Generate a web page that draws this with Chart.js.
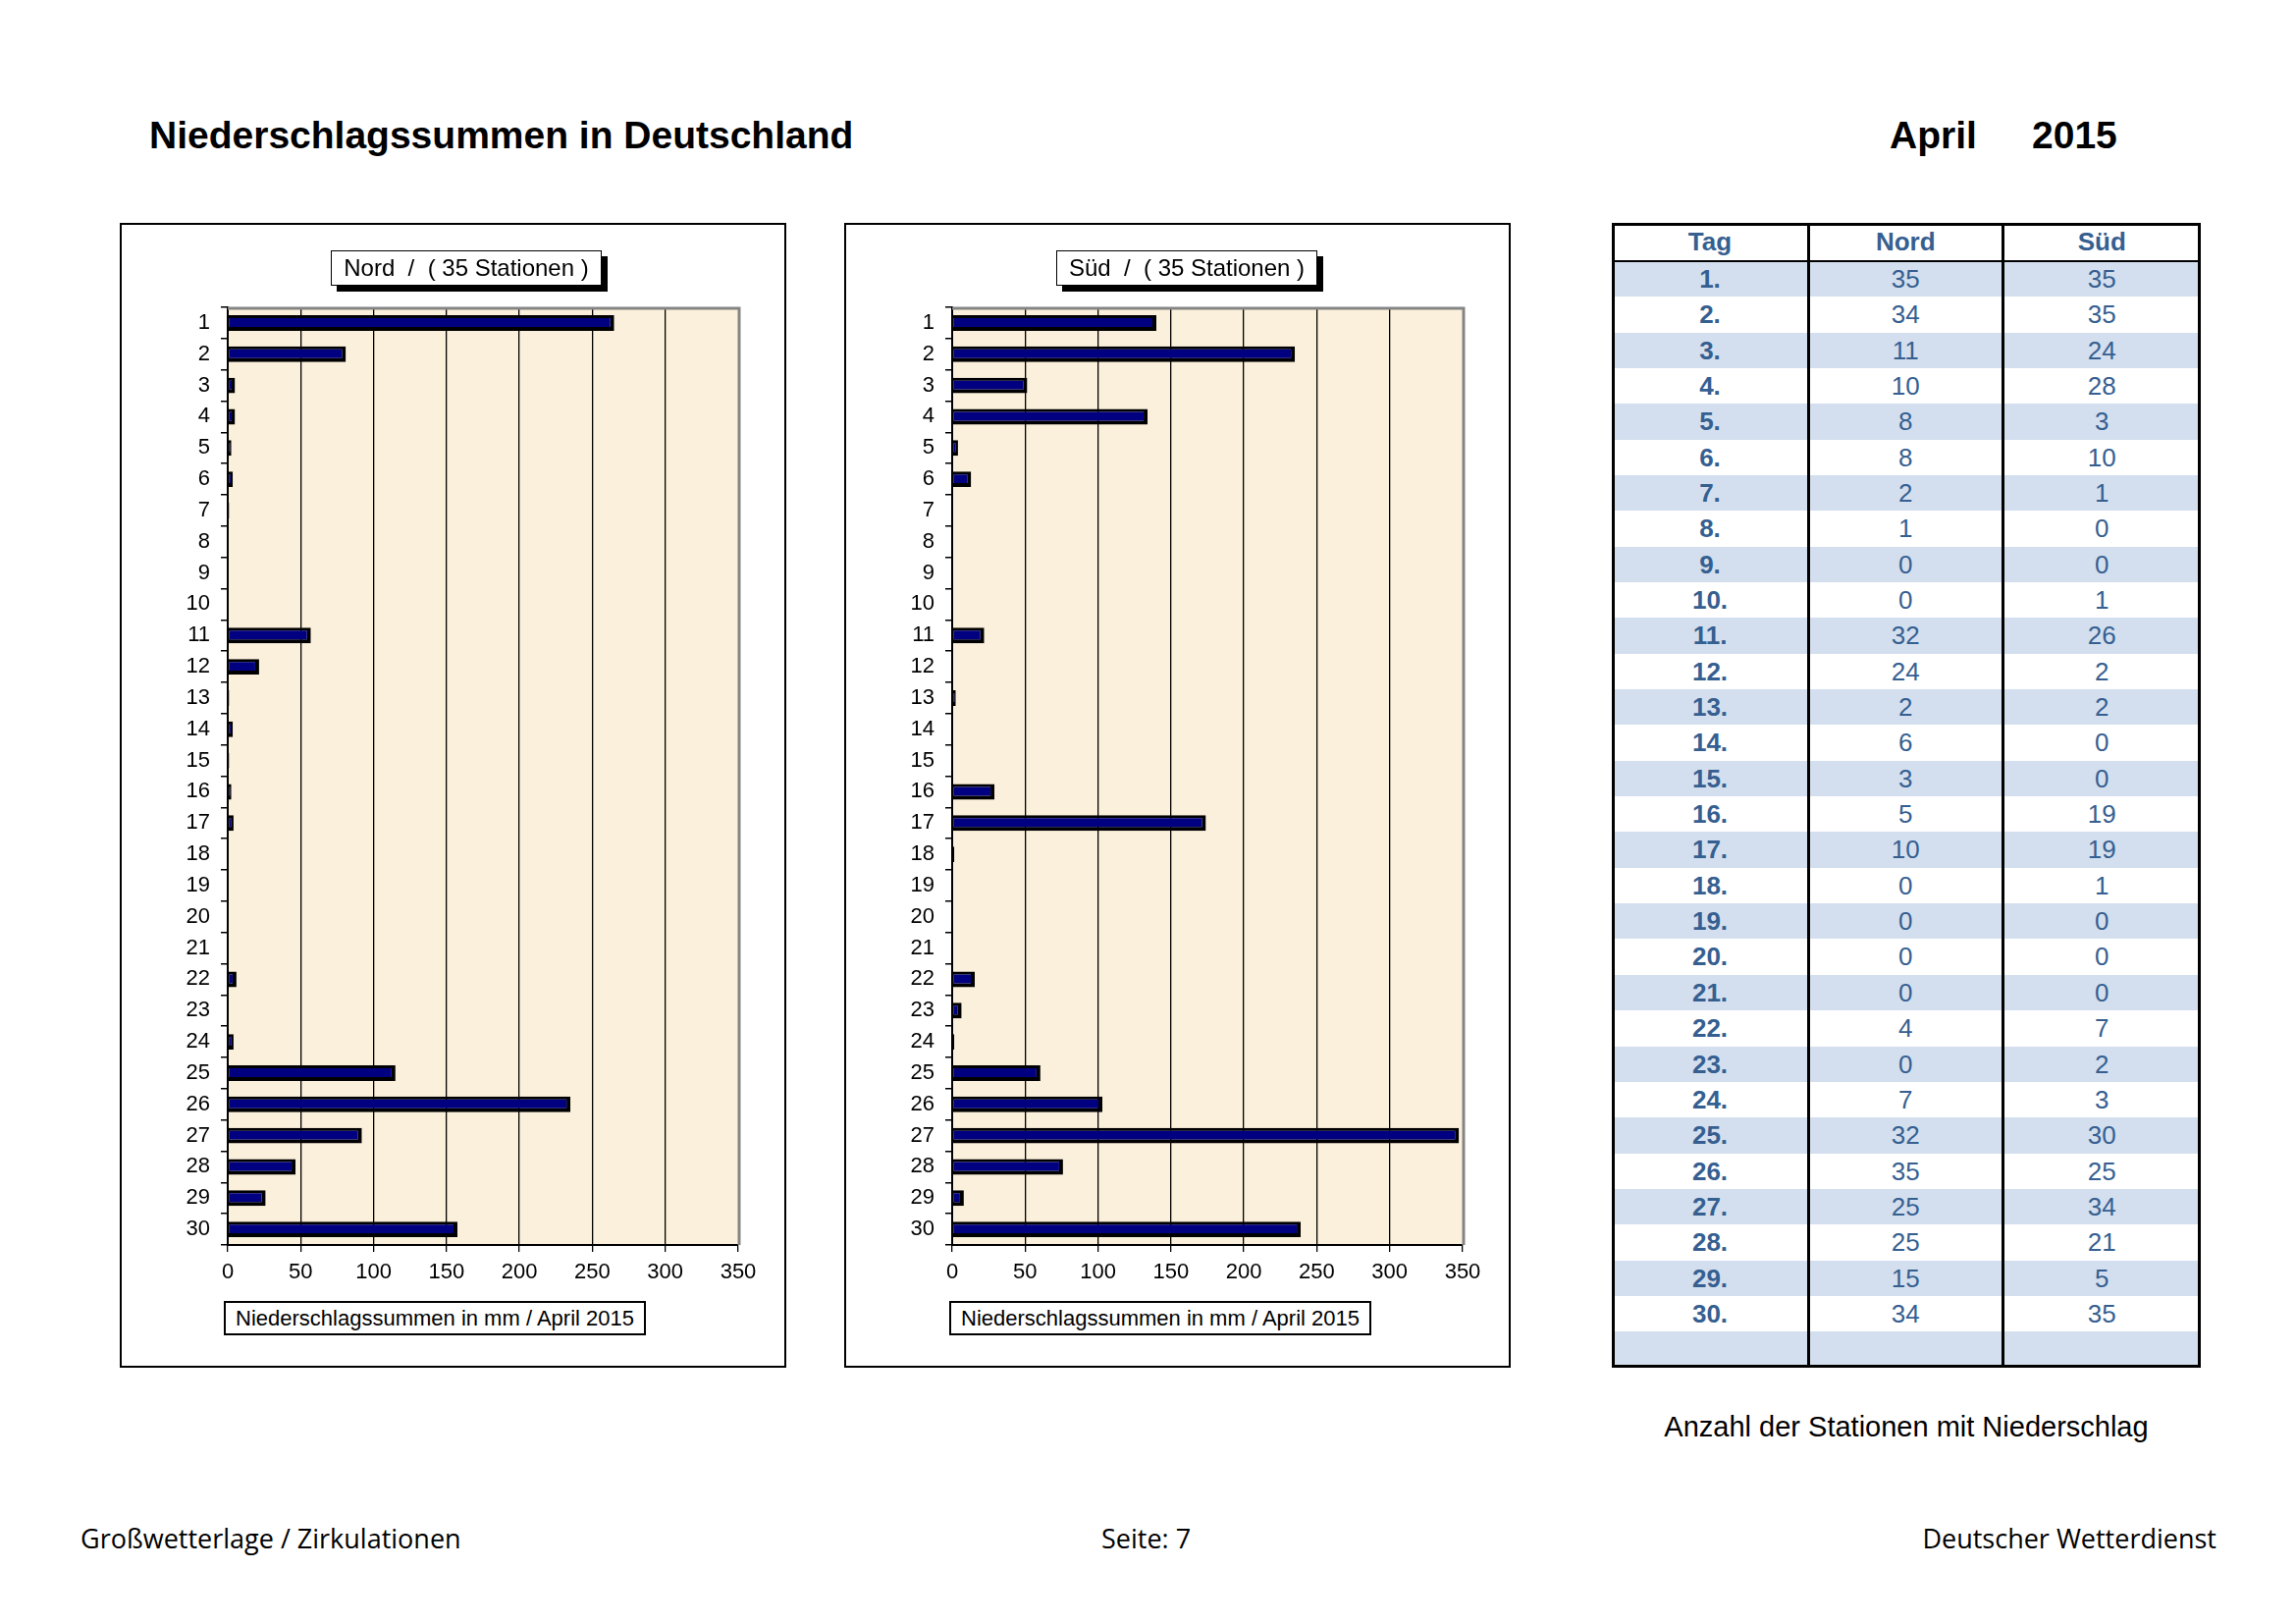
<!DOCTYPE html>
<html><head><meta charset="utf-8">
<script src="https://cdn.jsdelivr.net/npm/chart.js@4.4.1/dist/chart.umd.min.js"></script>
<style>
html,body{margin:0;padding:0;background:#fff;}
#page{position:relative;width:2339px;height:1653px;overflow:hidden;font-family:'Liberation Sans',Arial,sans-serif;color:#000;}
.abs{position:absolute;white-space:nowrap;}
.chartbox{position:absolute;width:679px;height:1166px;}
.frame{position:absolute;width:679px;height:1166px;border:2px solid #000;box-sizing:border-box;pointer-events:none;}
.lbox{position:absolute;background:#fff;border:1.5px solid #000;box-shadow:6px 6px 0 #000;box-sizing:border-box;text-align:center;font-size:24px;line-height:34px;white-space:pre;}
.xbox{position:absolute;background:#fff;border:2px solid #000;box-sizing:border-box;text-align:center;font-size:22px;line-height:31px;white-space:nowrap;}
#tbl{position:absolute;left:1642px;top:227px;width:600px;height:1166px;font-size:26px;color:#365F91;}
.row{position:absolute;left:0;width:600px;}
.cell{position:absolute;top:0;text-align:center;}
.foot{font-family:'Open Sans',sans-serif;font-size:27px;line-height:36px;}
</style></head>
<body><div id="page">
<div class="abs" style="left:152px;top:117px;font-size:39px;font-weight:bold;line-height:42px;">Niederschlagssummen in Deutschland</div>
<div class="abs" style="left:1925px;top:117px;font-size:39px;font-weight:bold;line-height:42px;">April</div>
<div class="abs" style="left:2070px;top:117px;font-size:39px;font-weight:bold;line-height:42px;">2015</div>

<div class="chartbox" style="left:122px;top:227px;"><canvas id="cNord"></canvas></div>
<div class="frame" style="left:122px;top:227px;"></div>
<div class="lbox" style="left:337px;top:255px;width:276px;height:36px;">Nord  /  ( 35 Stationen )</div>
<div class="xbox" style="left:228px;top:1325px;width:430px;height:35px;">Niederschlagssummen in mm / April 2015</div>

<div class="chartbox" style="left:860px;top:227px;"><canvas id="cSued"></canvas></div>
<div class="frame" style="left:860px;top:227px;"></div>
<div class="lbox" style="left:1076px;top:255px;width:266px;height:36px;">Süd  /  ( 35 Stationen )</div>
<div class="xbox" style="left:967px;top:1325px;width:430px;height:35px;">Niederschlagssummen in mm / April 2015</div>

<div id="tbl"></div>
<div class="abs" style="left:1642px;width:600px;top:1437px;text-align:center;font-size:29px;line-height:32px;">Anzahl der Stationen mit Niederschlag</div>

<div class="abs foot" style="left:82px;top:1549px;">Großwetterlage / Zirkulationen</div>
<div class="abs foot" style="left:1122px;top:1549px;">Seite: 7</div>
<div class="abs foot" style="right:81px;top:1549px;">Deutscher Wetterdienst</div>
</div>
<script>
// ---- data ----
const dayLabels = ['1','2','3','4','5','6','7','8','9','10','11','12','13','14','15','16','17','18','19','20','21','22','23','24','25','26','27','28','29','30'];
const nordRain = [265,81,5,5,2.5,3.5,1,0,0,0,57,21.5,1,3.5,1,2.5,4,0,0,0,0,6,0,4,115,235,92,46.5,26,157.5];
const suedRain = [140,235,51.5,134,4,13,0,0,0,0,22,0,2.5,0,0,29,174,1.5,0,0,0,15.5,6.5,1.5,60.5,103,347.5,76,8,239];
const tableDays = ['1.','2.','3.','4.','5.','6.','7.','8.','9.','10.','11.','12.','13.','14.','15.','16.','17.','18.','19.','20.','21.','22.','23.','24.','25.','26.','27.','28.','29.','30.'];
const nordStations = [35,34,11,10,8,8,2,1,0,0,32,24,2,6,3,5,10,0,0,0,0,4,0,7,32,35,25,25,15,34];
const suedStations = [35,35,24,28,3,10,1,0,0,1,26,2,2,0,0,19,19,1,0,0,0,7,2,3,30,25,34,21,5,35];
const xTicks = [0,50,100,150,200,250,300,350];

// ---- table ----
(function(){
  const t = document.getElementById('tbl');
  const cols = [[0,200],[200,198.5],[398.5,201.5]];
  const headH = 38.8, rowH = 36.35;
  function addRow(top, h, bg, texts, bolds){
    const r = document.createElement('div');
    r.className='row'; r.style.top = top+'px'; r.style.height = h+'px'; r.style.background = bg;
    texts.forEach((tx,i)=>{
      const c = document.createElement('div'); c.className='cell';
      c.style.left = cols[i][0]+'px'; c.style.width = cols[i][1]+'px';
      c.style.lineHeight = h+'px'; c.style.fontWeight = bolds[i]?'bold':'normal';
      c.textContent = tx; r.appendChild(c);
    });
    t.appendChild(r);
  }
  addRow(0, headH, '#fff', ['Tag','Nord','Süd'], [1,1,1]);
  for(let i=0;i<31;i++){
    const bg = (i%2===0)?'#D3DFEE':'#fff';
    if(i<30) addRow(headH+i*rowH, rowH+0.3, bg, [tableDays[i], String(nordStations[i]), String(suedStations[i])], [1,0,0]);
    else addRow(headH+i*rowH, rowH+0.5, bg, ['','',''], [0,0,0]);
  }
  const lines = [
    'left:0;top:0;width:600px;height:1166px;border:3px solid #000;box-sizing:border-box;',
    'left:199px;top:0;width:3px;height:1166px;background:#000;',
    'left:397px;top:0;width:3px;height:1166px;background:#000;',
    'left:0;top:37.5px;width:600px;height:2px;background:#000;'
  ];
  lines.forEach(s=>{const d=document.createElement('div'); d.style.cssText='position:absolute;'+s; t.appendChild(d);});
})();

// ---- charts ----
Chart.defaults.font.family = "'Liberation Sans', Arial, sans-serif";
Chart.defaults.font.size = 21;
Chart.defaults.color = '#000';

const bgPlugin = {
  id:'bgPlugin',
  beforeDraw(chart){
    const a = chart.chartArea, ctx = chart.ctx;
    ctx.save(); ctx.fillStyle = '#FBF0DB'; ctx.fillRect(a.left, a.top, a.right-a.left, a.bottom-a.top); ctx.restore();
  },
  afterDraw(chart){
    const a = chart.chartArea, ctx = chart.ctx;
    ctx.save(); ctx.strokeStyle = '#858585'; ctx.lineWidth = 3;
    ctx.beginPath(); ctx.moveTo(a.left, a.top+1); ctx.lineTo(a.right+1, a.top+1); ctx.lineTo(a.right+1, a.bottom); ctx.stroke();
    ctx.restore();
  }
};

function makeChart(id, values){
  return new Chart(document.getElementById(id), {
    type:'bar',
    data:{labels:dayLabels, datasets:[{data:values, backgroundColor:'#000080', borderColor:'#000',
      borderWidth:{top:3,left:1,right:4,bottom:4}, borderSkipped:false, barPercentage:0.5, categoryPercentage:1}]},
    options:{
      indexAxis:'y', responsive:true, maintainAspectRatio:false, animation:false,
      layout:{padding:{left:0,right:49,top:86,bottom:65}},
      plugins:{legend:{display:false}, tooltip:{enabled:false}, title:{display:false}},
      scales:{
        x:{type:'linear', min:xTicks[0], max:xTicks[xTicks.length-1],
          afterBuildTicks:(s)=>{ s.ticks = xTicks.map(v=>({value:v})); },
          ticks:{color:'#000', font:{size:22}, padding:8, maxRotation:0},
          grid:{color:(c)=> (c.tick && c.tick.value===350) ? 'rgba(0,0,0,0)' : '#000', lineWidth:1.3, tickColor:'#000', tickLength:7, drawTicks:true},
          border:{color:'#000', width:2},
          afterFit:(s)=>{ s.height = 60; }},
        y:{type:'category', ticks:{color:'#000', font:{size:22}, padding:11, autoSkip:false},
          grid:{drawOnChartArea:false, color:'#000', tickColor:'#000', tickLength:7, offset:true, lineWidth:1.5},
          border:{color:'#000', width:2},
          afterFit:(s)=>{ s.width = 110; }}
      }
    },
    plugins:[bgPlugin]
  });
}
makeChart('cNord', nordRain);
makeChart('cSued', suedRain);
</script>
</body></html>
